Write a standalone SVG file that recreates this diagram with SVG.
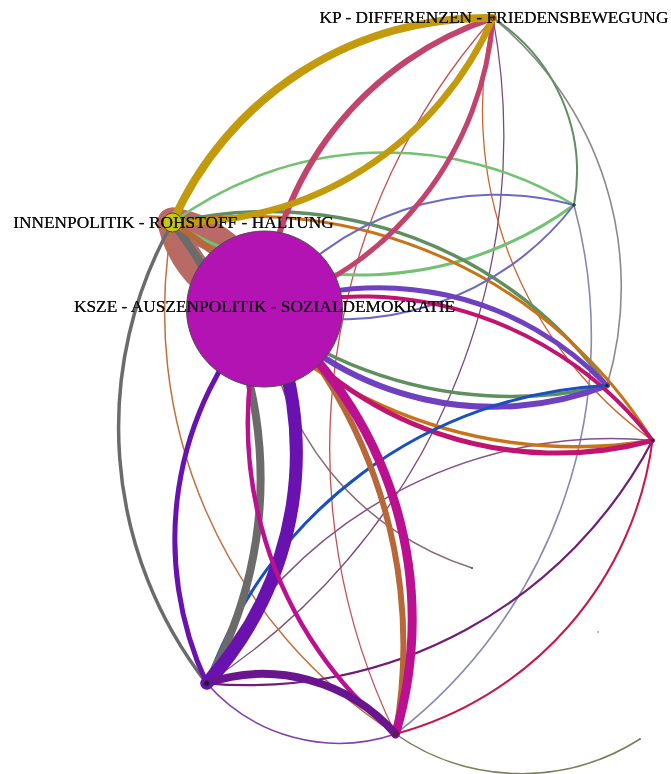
<svg xmlns="http://www.w3.org/2000/svg" width="671" height="774" viewBox="0 0 671 774">
  <defs>
    <style>
      .link { fill: none; stroke-linecap: round; }
      .node { stroke: #4a4a4a; stroke-width: 1; }
      .dot { stroke: #333; stroke-width: 0.6; }
      .label { font-family: "Liberation Serif", "Times New Roman", serif; font-size: 17.33px; fill: #111; text-anchor: middle; filter: url(#soft); }
    </style>
    <filter id="soft" x="-5%" y="-30%" width="110%" height="160%">
      <feGaussianBlur in="SourceGraphic" stdDeviation="0.7" result="b"/>
      <feMerge>
        <feMergeNode in="b"/>
        <feMergeNode in="SourceGraphic"/>
      </feMerge>
    </filter>
  </defs>
  <rect width="671" height="774" fill="#fff"/>

  <!-- links: each is a clockwise arc from source to target, radius 0.9 x chord -->
  <g id="links">
    <!-- INNENPOLITIK <-> KSZE -->
    <path class="link" d="M172.5,222.5 A113.7,113.7 0 0 1 264.5,309" stroke="#b96a66" stroke-width="30"/>
    <path class="link" d="M264.5,309 A113.7,113.7 0 0 1 172.5,222.5" stroke="#b96a66" stroke-width="30"/>

    <!-- thin long links -->
    <path class="link" d="M395.5,734 A650.3,650.3 0 0 1 493,18" stroke="#c05252" stroke-width="1.3"/>
    <path class="link" d="M493,18 A651.9,651.9 0 0 1 206.7,683.3" stroke="#7a4a7a" stroke-width="1.3"/>
    <path class="link" d="M652.5,440.5 A406.4,406.4 0 0 1 493,18" stroke="#c8662e" stroke-width="1.3"/>
    <path class="link" d="M493,18 A346.3,346.3 0 0 1 607,385.5" stroke="#8a8a8a" stroke-width="1.6"/>
    <path class="link" d="M493,18 A183.4,183.4 0 0 1 574,205" stroke="#5f8f5f" stroke-width="2"/>
    <path class="link" d="M574,205 A502.5,502.5 0 0 1 395.5,734" stroke="#8888b0" stroke-width="1.6"/>
    <path class="link" d="M472,568 A298.7,298.7 0 0 1 264.5,309" stroke="#8a6a70" stroke-width="1.5"/>
    <path class="link" d="M640,739 A220.1,220.1 0 0 1 395.5,734" stroke="#7a7d58" stroke-width="1.5"/>
    <path class="link" d="M395.5,734 A502.2,502.2 0 0 1 172.5,222.5" stroke="#c07040" stroke-width="1.5"/>
    <path class="link" d="M395.5,734 A175.9,175.9 0 0 1 206.7,683.3" stroke="#8040a8" stroke-width="1.6"/>
    <path class="link" d="M206.7,683.3 A456.9,456.9 0 0 1 652.5,440.5" stroke="#845088" stroke-width="1.5"/>
    <path class="link" d="M652.5,440.5 A456.9,456.9 0 0 1 206.7,683.3" stroke="#701e72" stroke-width="2.2"/>
    <path class="link" d="M652.5,440.5 A351.1,351.1 0 0 1 395.5,734" stroke="#c41848" stroke-width="2"/>

    <!-- INNENPOLITIK <-> right-hand nodes -->
    <path class="link" d="M172.5,222.5 A361.7,361.7 0 0 1 574,205" stroke="#72c272" stroke-width="2.5"/>
    <path class="link" d="M574,205 A361.7,361.7 0 0 1 172.5,222.5" stroke="#72c272" stroke-width="3"/>
    <path class="link" d="M172.5,222.5 A417.7,417.7 0 0 1 607,385.5" stroke="#5f8f5f" stroke-width="3.5"/>
    <path class="link" d="M607,385.5 A417.7,417.7 0 0 1 172.5,222.5" stroke="#5f8f5f" stroke-width="3.5"/>
    <path class="link" d="M172.5,222.5 A474.5,474.5 0 0 1 652.5,440.5" stroke="#c77418" stroke-width="3"/>
    <path class="link" d="M652.5,440.5 A474.5,474.5 0 0 1 172.5,222.5" stroke="#c77418" stroke-width="3.5"/>

    <!-- KSZE <-> right-hand nodes -->
    <path class="link" d="M264.5,309 A293.9,293.9 0 0 1 574,205" stroke="#6a6ac0" stroke-width="2"/>
    <path class="link" d="M574,205 A293.9,293.9 0 0 1 264.5,309" stroke="#6a6ac0" stroke-width="2"/>
    <path class="link" d="M264.5,309 A315.8,315.8 0 0 1 607,385.5" stroke="#6f40c0" stroke-width="5"/>
    <path class="link" d="M607,385.5 A315.8,315.8 0 0 1 264.5,309" stroke="#6f40c0" stroke-width="6"/>
    <path class="link" d="M264.5,309 A368.7,368.7 0 0 1 652.5,440.5" stroke="#c0146e" stroke-width="4"/>
    <path class="link" d="M652.5,440.5 A368.7,368.7 0 0 1 264.5,309" stroke="#c0146e" stroke-width="5"/>
    <path class="link" d="M206.7,683.3 A449,449 0 0 1 607,385.5" stroke="#1a4fc0" stroke-width="3"/>

    <!-- lower links -->
    <path class="link" d="M172.5,222.5 A415.9,415.9 0 0 1 206.7,683.3" stroke="#6b6b6b" stroke-width="8"/>
    <path class="link" d="M206.7,683.3 A415.9,415.9 0 0 1 172.5,222.5" stroke="#6b6b6b" stroke-width="3.5"/>
    <path class="link" d="M264.5,309 A340.9,340.9 0 0 1 206.7,683.3" stroke="#6a12b0" stroke-width="13"/>
    <path class="link" d="M206.7,683.3 A340.9,340.9 0 0 1 264.5,309" stroke="#6a12b0" stroke-width="5"/>
    <path class="link" d="M172.5,222.5 A502.2,502.2 0 0 1 395.5,734" stroke="#b86838" stroke-width="6"/>
    <path class="link" d="M264.5,309 A400.3,400.3 0 0 1 395.5,734" stroke="#bb1090" stroke-width="9"/>
    <path class="link" d="M395.5,734 A400.3,400.3 0 0 1 264.5,309" stroke="#bb1090" stroke-width="4.5"/>
    <path class="link" d="M206.7,683.3 A175.9,175.9 0 0 1 395.5,734" stroke="#6a1590" stroke-width="8"/>

    <!-- KP links -->
    <path class="link" d="M264.5,309 A333,333 0 0 1 493,18" stroke="#c2446c" stroke-width="6"/>
    <path class="link" d="M493,18 A333,333 0 0 1 264.5,309" stroke="#c2446c" stroke-width="5"/>
    <path class="link" d="M172.5,222.5 A342,342 0 0 1 493,18" stroke="#c29a0c" stroke-width="8"/>
    <path class="link" d="M493,18 A342,342 0 0 1 172.5,222.5" stroke="#c29a0c" stroke-width="6.5"/>
  </g>

  <g id="node-ksze">
    <circle class="node" cx="264.5" cy="309" r="78" fill="#b413b4"/>
  </g>
  <g id="node-innenpolitik">
    <circle class="node" cx="172.5" cy="222.5" r="9.5" fill="#c8c80a"/>
  </g>
  <g id="node-kp">
    <circle class="dot" cx="493" cy="18" r="2.5" fill="#a05418"/>
  </g>
  <g id="node-d"><circle class="dot" cx="574" cy="205" r="1.4" fill="#3a3a6a"/></g>
  <g id="node-e"><circle class="dot" cx="607" cy="385.5" r="1.5" fill="#222"/></g>
  <g id="node-f"><circle class="dot" cx="652.5" cy="440.5" r="1.5" fill="#401030"/></g>
  <g id="node-g"><circle class="dot" cx="206.7" cy="683.3" r="2.6" fill="#1a1060"/></g>
  <g id="node-h"><circle class="dot" cx="395.5" cy="734" r="2.4" fill="#7a1040"/></g>
  <g id="node-i"><circle cx="472" cy="568" r="0.9" fill="#5a4048"/></g>
  <g id="node-j"><circle cx="640" cy="739" r="0.8" fill="#5a5d40"/></g>
  <g id="node-k"><circle cx="598" cy="632" r="0.9" fill="#999"/></g>

  <g id="labels">
    <text class="label" x="494" y="22.6">KP - DIFFERENZEN - FRIEDENSBEWEGUNG</text>
    <text class="label" x="173.5" y="228.4">INNENPOLITIK - ROHSTOFF - HALTUNG</text>
    <text class="label" x="264.5" y="312.4">KSZE - AUSZENPOLITIK - SOZIALDEMOKRATIE</text>
  </g>
</svg>
